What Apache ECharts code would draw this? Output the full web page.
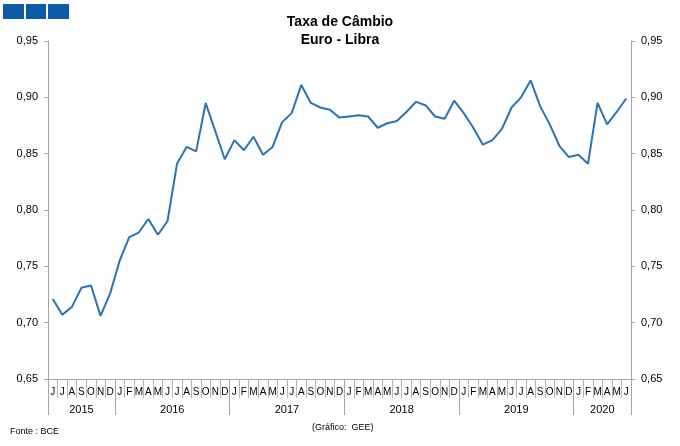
<!DOCTYPE html>
<html>
<head>
<meta charset="utf-8">
<script src="https://cdn.jsdelivr.net/npm/echarts@6/dist/echarts.min.js"></script>
<style>html,body{margin:0;padding:0;background:#fff}#c{width:680px;height:446px}</style>
</head>
<body>
<div id="c"></div>
<script>
var months = ['J','J','A','S','O','N','D',
  'J','F','M','A','M','J','J','A','S','O','N','D',
  'J','F','M','A','M','J','J','A','S','O','N','D',
  'J','F','M','A','M','J','J','A','S','O','N','D',
  'J','F','M','A','M','J','J','A','S','O','N','D',
  'J','F','M','A','M','J'];
var years = ['2015','2016','2017','2018','2019','2020'];
var yearMonthCounts = [7, 12, 12, 12, 12, 6];
var values = [0.721,0.707,0.714,0.731,0.733,0.706,0.726,
  0.755,0.776,0.780,0.792,0.778,0.790,0.841,0.856,0.852,0.895,0.870,0.845,
  0.862,0.853,0.865,0.849,0.856,0.878,0.886,0.911,0.895,0.891,0.889,0.882,
  0.883,0.884,0.883,0.873,0.877,0.879,0.887,0.896,0.893,0.883,0.881,0.897,
  0.886,0.873,0.858,0.862,0.872,0.891,0.900,0.915,0.892,0.876,0.857,0.847,
  0.849,0.841,0.895,0.876,0.887,0.899];
var yTicks = {min: 0.65, max: 0.95, interval: 0.05};

var yearStarts = {}, yearCenters = {};
var acc = 0;
years.forEach(function (y, i) {
  yearStarts[acc] = true;
  yearCenters[(acc + yearMonthCounts[i] / 2).toFixed(1)] = y;
  acc += yearMonthCounts[i];
});
var cats = months.map(function (m, i) { return i + ':' + m; });

var font = 'Arial, "Liberation Sans", sans-serif';
var gray = '#a6a6a6';
function fmt(v) { return v.toFixed(2).replace('.', ','); }
function yAxis(pos) {
  return {
    type: 'value', position: pos, min: yTicks.min, max: yTicks.max, interval: yTicks.interval,
    axisLine: {show: true, lineStyle: {color: gray, width: 1}},
    axisTick: {show: true, length: 4, lineStyle: {color: gray}},
    splitLine: {show: false},
    axisLabel: {formatter: fmt, color: '#000', fontSize: 11, fontFamily: font, margin: 10}
  };
}
var chart = echarts.init(document.getElementById('c'), null, {renderer: 'canvas'});
chart.setOption({
  animation: false,
  title: [
    {text: 'Taxa de Câmbio\nEuro - Libra', left: 'center', top: 8,
     textStyle: {fontSize: 14, fontWeight: 'bold', fontFamily: font, color: '#000', lineHeight: 18}},
    {text: 'Fonte : BCE', left: 5, top: 422, textStyle: {fontSize: 9, fontWeight: 'normal', fontFamily: font, color: '#000'}},
    {text: '(Gráfico:  GEE)', left: 307, top: 418, textStyle: {fontSize: 9, fontWeight: 'normal', fontFamily: font, color: '#000'}}
  ],
  graphic: [
    {type: 'rect', shape: {x: 3, y: 4, width: 21, height: 15}, style: {fill: '#0c5aa6'}},
    {type: 'rect', shape: {x: 26, y: 4, width: 20, height: 15}, style: {fill: '#0c5aa6'}},
    {type: 'rect', shape: {x: 48, y: 4, width: 21, height: 15}, style: {fill: '#0c5aa6'}}
  ],
  grid: {left: 48, right: 49, top: 41, bottom: 67, containLabel: false},
  xAxis: [
    {type: 'category', data: cats, boundaryGap: true, position: 'bottom',
     axisLine: {show: true, lineStyle: {color: gray}},
     axisTick: {show: true, interval: 0, length: 19, lineStyle: {color: '#b8b8b8'}},
     axisLabel: {interval: 0, margin: 8, fontSize: 10, fontFamily: font, color: '#000',
       formatter: function (v) { return v.split(':')[1]; }}},
    {type: 'category', data: cats, boundaryGap: true, position: 'bottom',
     axisLine: {show: false},
     axisTick: {show: true, length: 36, lineStyle: {color: gray},
       interval: function (i) { return !!yearStarts[i]; }},
     axisLabel: {show: false}},
    {type: 'value', min: 0, max: months.length, interval: 0.5, position: 'bottom',
     axisLine: {show: false}, axisTick: {show: false}, splitLine: {show: false},
     axisLabel: {margin: 25, fontSize: 11, fontFamily: font, color: '#000', showMinLabel: true, showMaxLabel: true,
       formatter: function (v) { return yearCenters[v.toFixed(1)] || ''; }}}
  ],
  yAxis: [yAxis('left'), yAxis('right')],
  series: [{
    type: 'line', data: values, xAxisIndex: 0, yAxisIndex: 0,
    showSymbol: false, symbol: 'none',
    lineStyle: {color: '#2a73b9', width: 2}
  }]
});
</script>
</body>
</html>
